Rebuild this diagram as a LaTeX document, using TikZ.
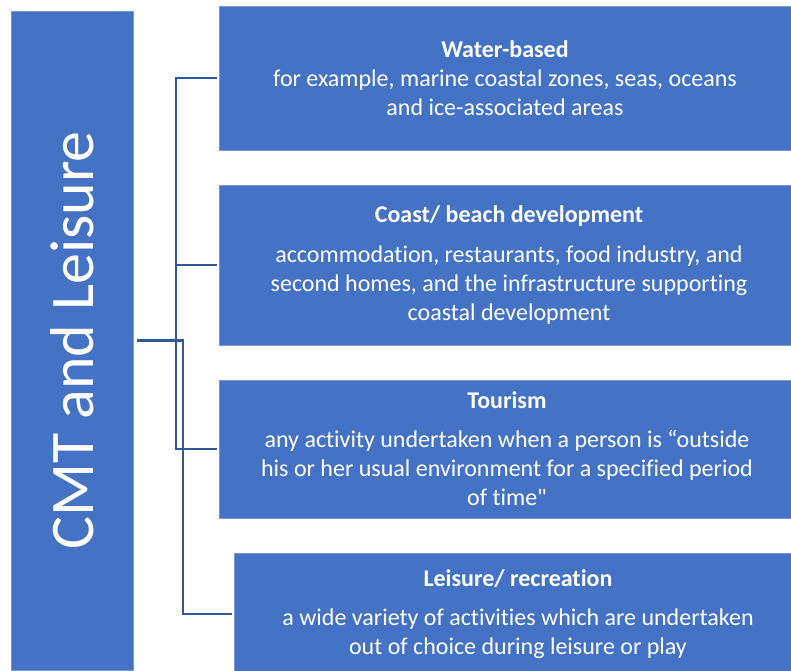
\documentclass[tikz,border=0pt]{standalone}
\usepackage{fontspec}
\setmainfont{Carlito}[Ligatures={NoCommon,TeXOff}]
\usepackage{xcolor}
\usepackage{tikz}
\usetikzlibrary{positioning,calc}

\definecolor{boxblue}{RGB}{68,114,196}
\definecolor{edgeblue}{RGB}{122,152,212}
\definecolor{lineblue}{RGB}{50,86,156}

\tikzset{
    topic/.style={draw=edgeblue, line width=0.6pt, fill=boxblue, text=white, align=center,
        inner sep=0pt, font=\fontsize{24}{29}\selectfont},
    link/.style={draw=lineblue, line width=2.2pt, shorten >=2pt}
}

\begin{document}
\begin{tikzpicture}[x=1pt, y=1pt]
    \useasboundingbox (0,0) rectangle (791,670);
    % Main box
    \node [topic, rotate=90, minimum width=659, minimum height=122, font=\fontsize{62}{70}\selectfont]
        (main) at (72,329.5) {CMT and Leisure};
    % Topic boxes
    \node [topic, minimum width=572, minimum height=144] (water) at (505,592)
        {\textbf{Water-based}\\for example, marine coastal zones, seas, oceans\\and ice-associated areas};
    \node [topic, minimum width=580, minimum height=160] (coast) at (509,405)
        {\textbf{Coast/ beach development}\\[11pt]accommodation, restaurants, food industry, and\\second homes, and the infrastructure supporting\\coastal development};
    \node [topic, minimum width=576, minimum height=138] (tour) at (507,221)
        {\textbf{Tourism}\\[10pt]any activity undertaken when a person is \char"201C outside\\his or her usual environment for a specified period\\of time\char"22};
    \node [topic, minimum width=568, minimum height=122] (leis) at (518,56)
        {\textbf{Leisure/ recreation}\\[10pt]a wide variety of activities which are undertaken\\out of choice during leisure or play};
    % Connectors
    \coordinate (hub) at ($(main.south)+(4,0)$);
    \draw [link] (hub) -- ++(39,0) |- (water.west);
    \draw [link] (hub) -- ++(39,0) |- (coast.west);
    \draw [link] (hub) -- ++(39,0) |- (tour.west);
    \draw [link] (hub) -- ++(46,0) |- (leis.west);
\end{tikzpicture}
\end{document}
